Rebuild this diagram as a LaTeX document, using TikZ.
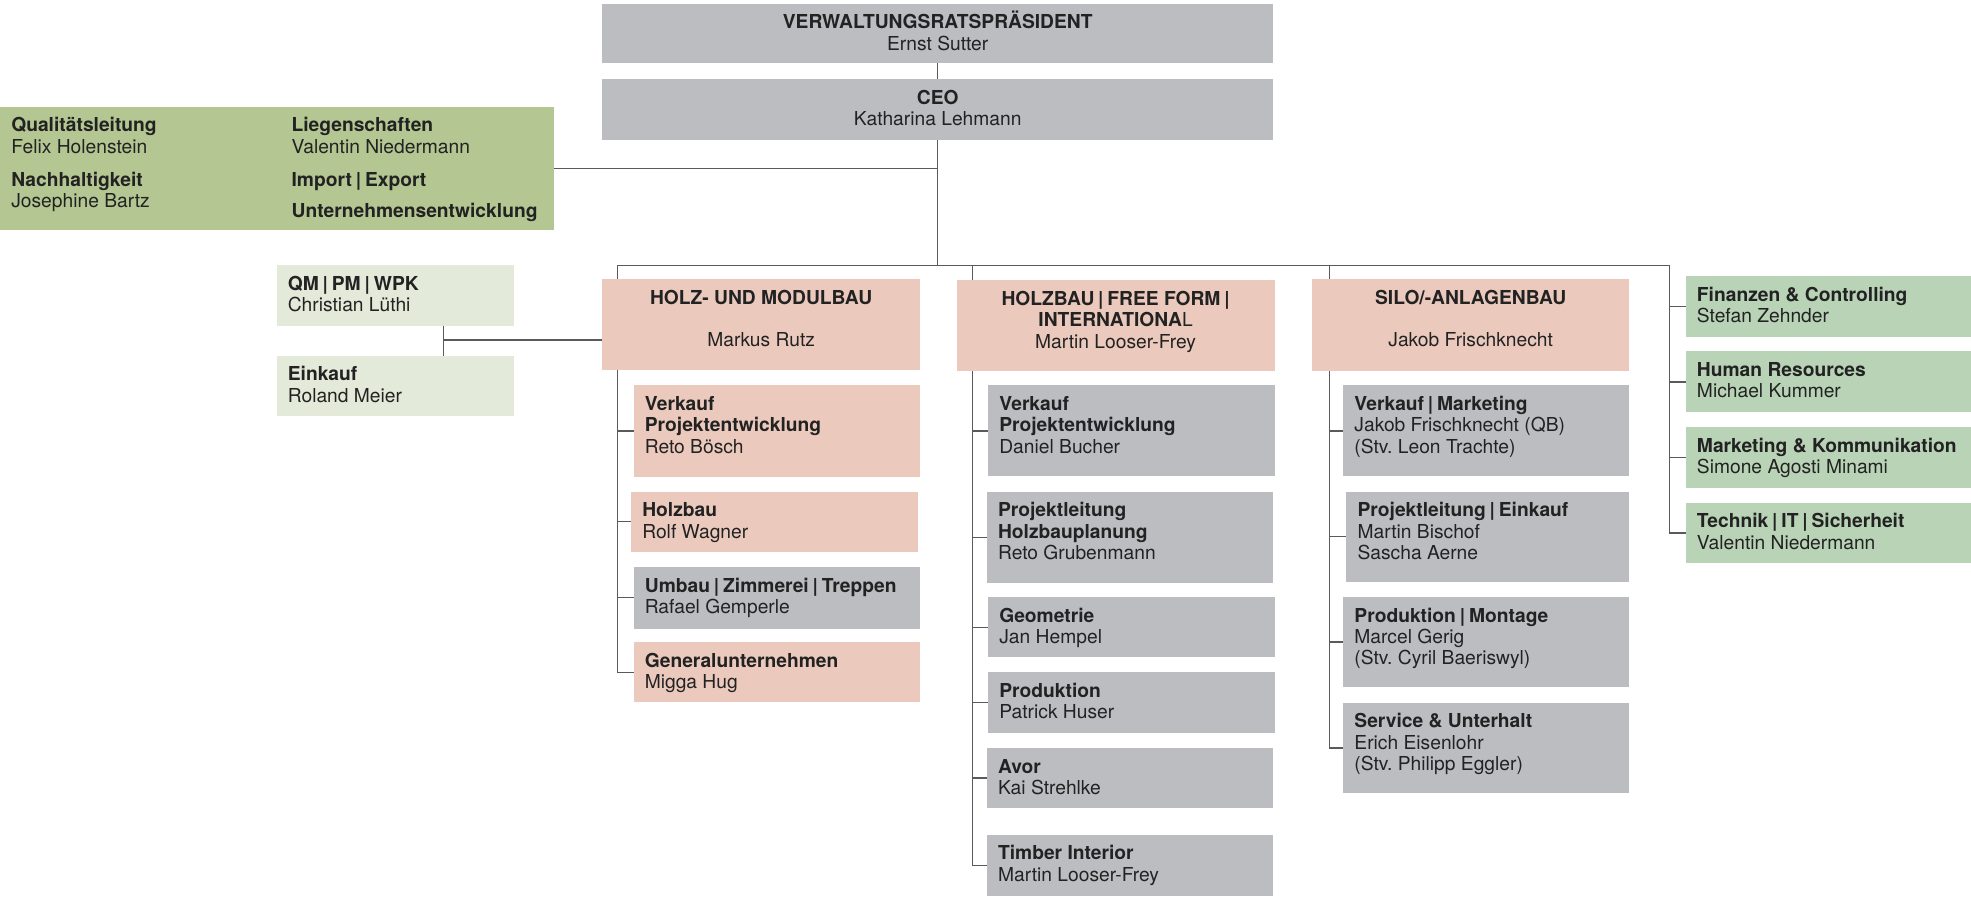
\documentclass[tikz,border=0pt]{standalone}
\usepackage{fontspec}
\setmainfont{TeX Gyre Heros}
\frenchspacing
\definecolor{boxgray}{HTML}{BCBDC1}
\definecolor{salmon}{HTML}{EBCABD}
\definecolor{olive}{HTML}{B4C692}
\definecolor{palegreen}{HTML}{E4EAD9}
\definecolor{mint}{HTML}{B9D3B7}
\definecolor{ink}{HTML}{222222}
\definecolor{wire}{HTML}{5A5A5A}
\newcommand\sepbar{\hspace{0.2em}|\hspace{0.2em}}
\newcommand\txtfont{\fontsize{15.3pt}{17pt}\selectfont}
% left-aligned box: name, style, x, y, w, h, content
\newcommand\lbox[7]{\node[#2] (#1) at (#3,#4) {\parbox[c][#6pt][t]{#5pt}{\txtfont\hbadness=10000\leftskip=9pt\relax\noindent\rule{0pt}{20pt}#7}};}
% centred box
\newcommand\cbox[7]{\node[#2] (#1) at (#3,#4) {\parbox[c][#6pt][t]{#5pt}{\txtfont\hbadness=10000\centering\rule{0pt}{20pt}#7}};}
\begin{document}
\begin{tikzpicture}[x=1pt,y=-1pt,
  bx/.style={anchor=north west,inner sep=0pt,outer sep=0pt,text=ink},
  gray/.style={bx,fill=boxgray},
  sal/.style={bx,fill=salmon},
  oli/.style={bx,fill=olive},
  pal/.style={bx,fill=palegreen},
  mnt/.style={bx,fill=mint},
  link/.style={draw=wire,line width=1.1pt}]
\path[use as bounding box] (0,0) rectangle (1568,712.8);

% top
\cbox{vr}{gray}{479}{3}{534}{47}{\textbf{VERWALTUNGSRATSPRÄSIDENT}\\Ernst Sutter}
\cbox{ceo}{gray}{479}{63}{534}{48}{\textbf{CEO}\\Katharina Lehmann}

% staff box
\node[oli] (stab) at (0,85) {\parbox[c][98pt][t]{441pt}{\txtfont\noindent\hspace*{9pt}%
\parbox[t]{200pt}{\rule{0pt}{20pt}\textbf{Qualitätsleitung}\\Felix Holenstein\\[9pt]\textbf{Nachhaltigkeit}\\Josephine Bartz}%
\hspace{23pt}%
\parbox[t]{205pt}{\rule{0pt}{20pt}\textbf{Liegenschaften}\\Valentin Niedermann\\[9pt]\textbf{Import\sepbar Export}\\[8pt]\textbf{Unternehmensentwicklung}}}};

% QM / Einkauf
\lbox{qm}{pal}{220}{211}{189}{48}{\textbf{QM\sepbar PM\sepbar WPK}\\Christian Lüthi}
\lbox{eink}{pal}{220}{283}{189}{48}{\textbf{Einkauf}\\Roland Meier}

% division heads
\cbox{h1}{sal}{479}{222}{253}{72}{\textbf{HOLZ- UND MODULBAU}\\[17pt]Markus Rutz}
\cbox{h2}{sal}{761}{223}{253}{72}{\textbf{HOLZBAU\sepbar FREE FORM\sepbar}\\\textbf{INTERNATIONA}L\\Martin Looser-Frey}
\cbox{h3}{sal}{1044}{222}{252}{73}{\textbf{SILO/-ANLAGENBAU}\\[17pt]Jakob Frischknecht}

% column 1
\lbox{c1a}{sal}{504}{306.5}{228}{73}{\textbf{Verkauf}\\\textbf{Projektentwicklung}\\Reto Bösch}
\lbox{c1b}{sal}{502}{391}{228}{48}{\textbf{Holzbau}\\Rolf Wagner}
\lbox{c1c}{gray}{504}{451}{228}{49}{\textbf{Umbau\sepbar Zimmerei\sepbar Treppen}\\Rafael Gemperle}
\lbox{c1d}{sal}{504}{511}{228}{47.5}{\textbf{Generalunternehmen}\\Migga Hug}

% column 2
\lbox{c2a}{gray}{786}{306.5}{228}{72.5}{\textbf{Verkauf}\\\textbf{Projektentwicklung}\\Daniel Bucher}
\lbox{c2b}{gray}{785}{391}{228}{73}{\textbf{Projektleitung}\\\textbf{Holzbauplanung}\\Reto Grubenmann}
\lbox{c2c}{gray}{786}{475}{228}{48}{\textbf{Geometrie}\\Jan Hempel}
\lbox{c2d}{gray}{786}{534.5}{228}{48.5}{\textbf{Produktion}\\Patrick Huser}
\lbox{c2e}{gray}{785}{595}{228}{48}{\textbf{Avor}\\Kai Strehlke}
\lbox{c2f}{gray}{785}{664}{228}{49}{\textbf{Timber Interior}\\Martin Looser-Frey}

% column 3
\lbox{c3a}{gray}{1068.5}{306.5}{227.5}{72.5}{\textbf{Verkauf\sepbar Marketing}\\Jakob Frischknecht (QB)\\(Stv. Leon Trachte)}
\lbox{c3b}{gray}{1071}{391}{225}{72}{\textbf{Projektleitung\sepbar Einkauf}\\Martin Bischof\\Sascha Aerne}
\lbox{c3c}{gray}{1068.5}{475}{227.5}{71.5}{\textbf{Produktion\sepbar Montage}\\Marcel Gerig\\(Stv. Cyril Baeriswyl)}
\lbox{c3d}{gray}{1068.5}{559}{227.5}{72}{\textbf{Service \& Unterhalt}\\Erich Eisenlohr\\(Stv. Philipp Eggler)}

% column 4
\lbox{r1}{mnt}{1341}{219.5}{227}{48.5}{\textbf{Finanzen \& Controlling}\\Stefan Zehnder}
\lbox{r2}{mnt}{1341}{279.5}{227}{48.5}{\textbf{Human Resources}\\Michael Kummer}
\lbox{r3}{mnt}{1341}{340}{227}{48}{\textbf{Marketing \& Kommunikation}\\Simone Agosti Minami}
\lbox{r4}{mnt}{1341}{400}{227}{48}{\textbf{Technik\sepbar IT\sepbar Sicherheit}\\Valentin Niedermann}

% connectors
\coordinate (bus1) at (491,211);
\coordinate (bus2) at (773.5,211);
\coordinate (bus3) at (1057.5,211);
\coordinate (bus4) at (1328,211);
\coordinate (qmx) at (353,270.5);

\draw[link] (vr.south) -- (ceo.north);
\draw[link] (ceo.south) -- (ceo.south |- bus1);
\draw[link] (stab.east) -- (stab.east -| ceo.south);
\draw[link] (bus1) -- (bus4);

\draw[link] (bus1) -- (bus1 |- h1.north);
\draw[link] (bus1 |- h1.south) |- (c1d.west);
\foreach \n in {c1a,c1b,c1c} \draw[link] (bus1 |- \n.west) -- (\n.west);

\draw[link] (bus2) -- (bus2 |- h2.north);
\draw[link] (bus2 |- h2.south) |- (c2f.west);
\foreach \n in {c2a,c2b,c2c,c2d,c2e} \draw[link] (bus2 |- \n.west) -- (\n.west);

\draw[link] (bus3) -- (bus3 |- h3.north);
\draw[link] (bus3 |- h3.south) |- (c3d.west);
\foreach \n in {c3a,c3b,c3c} \draw[link] (bus3 |- \n.west) -- (\n.west);

\draw[link] (bus4) |- (r4.west);
\foreach \n in {r1,r2,r3} \draw[link] (bus4 |- \n.west) -- (\n.west);

\draw[link] (qm.south -| qmx) -- (eink.north -| qmx);
\draw[link] (qmx) -- (qmx -| h1.west);
\end{tikzpicture}
\end{document}
